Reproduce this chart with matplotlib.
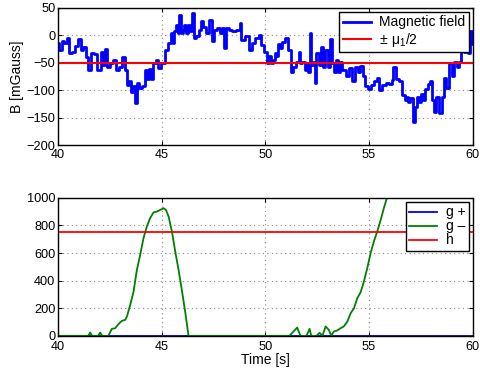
import matplotlib
matplotlib.use('Agg')
import matplotlib.pyplot as plt
import numpy as np

plt.rcParams['font.family'] = ['Liberation Sans', 'DejaVu Sans']
plt.rcParams['mathtext.default'] = 'regular'
plt.rcParams['xtick.direction'] = 'in'
plt.rcParams['ytick.direction'] = 'in'

# magnetic field samples (time [s], B [mGauss])
t_b = [40.00, 40.10, 40.18, 40.24, 40.37, 40.50, 40.58, 40.72, 40.87, 41.06,
       41.14, 41.30, 41.42, 41.51, 41.63, 41.79, 42.00, 42.11, 42.19, 42.32,
       42.39, 42.59, 42.71, 42.84, 43.00, 43.19, 43.24, 43.37, 43.48, 43.56,
       43.64, 43.77, 43.88, 43.96, 44.12, 44.25, 44.36, 44.44, 44.54, 44.64,
       44.77, 44.89, 45.01, 45.09, 45.25, 45.38, 45.49, 45.57, 45.65, 45.73,
       45.81, 45.89, 45.98, 46.05, 46.14, 46.22, 46.29, 46.41, 46.51, 46.58,
       46.70, 46.86, 46.94, 47.05, 47.18, 47.34, 47.47, 47.58, 47.74, 47.86,
       47.96, 48.07, 48.15, 48.31, 48.47, 48.71, 48.79, 48.89, 49.12, 49.28,
       49.43, 49.60, 49.76, 49.84, 50.00, 50.11, 50.24, 50.32, 50.40, 50.48,
       50.57, 50.64, 50.72, 50.88, 51.05, 51.17, 51.29, 51.37, 51.53, 51.66,
       51.72, 51.85, 51.93, 52.01, 52.09, 52.17, 52.22, 52.33, 52.42, 52.50,
       52.66, 52.74, 52.82, 52.95, 53.06, 53.17, 53.27, 53.38, 53.46, 53.54,
       53.62, 53.78, 53.95, 54.11, 54.27, 54.40, 54.51, 54.62, 54.75, 54.88,
       54.99, 55.15, 55.31, 55.43, 55.56, 55.71, 55.88, 56.04, 56.12, 56.23,
       56.33, 56.52, 56.68, 56.76, 56.85, 56.92, 57.04, 57.16, 57.25, 57.33,
       57.44, 57.54, 57.65, 57.78, 57.89, 58.00, 58.10, 58.18, 58.29, 58.45,
       58.58, 58.65, 58.78, 58.94, 59.02, 59.18, 59.26, 59.39, 59.50, 59.61,
       59.74, 59.82, 59.90, 59.99, 60.00]
b_field = [-14, -27, -27, -11, -14, -4, -32, -30, -20, -7,
           -27, -22, -40, -63, -32, -34, -63, -30, -54, -25,
           -57, -51, -45, -63, -57, -40, -64, -90, -84, -103,
           -92, -124, -86, -96, -93, -64, -80, -62, -80, -51,
           -45, -59, -51, -50, -27, -14, 4, -14, 7, 19,
           4, 37, 4, 10, 19, 4, 19, 7, 40, -4,
           -2, 10, 26, 16, 4, 28, -11, 10, 13, 4,
           13, -24, 13, 10, 7, 10, 22, -8, -2, -27,
           -14, -5, 1, -17, -30, -51, -37, -51, -45, -33,
           -37, -15, -24, -12, -5, -27, -66, -57, -48, -30,
           -51, -48, -63, -51, -66, 4, -54, -48, -87, -33,
           -54, -21, -57, -27, -57, -7, -51, -66, -45, -66,
           -48, -63, -75, -60, -84, -57, -66, -56, -75, -92,
           -97, -90, -84, -78, -100, -90, -87, -88, -82, -57,
           -80, -84, -109, -118, -112, -121, -115, -157, -130, -112,
           -121, -106, -118, -97, -88, -83, -118, -139, -112, -142,
           -112, -78, -96, -51, -75, -48, -57, -48, -21, -30,
           -9, -33, 7, -15, -5]
mu_half = 50

# CUSUM statistics
t_g = [40.00, 41.45, 41.55, 41.64, 41.93, 42.03, 42.13, 42.43, 42.59, 42.75,
       42.91, 43.08, 43.24, 43.32, 43.48, 43.64, 43.80, 43.96, 44.12, 44.28,
       44.44, 44.60, 44.77, 44.93, 45.09, 45.20, 45.33, 45.49, 45.65, 45.81,
       45.98, 46.14, 46.29, 51.16, 51.53, 51.69, 51.98, 52.13, 52.21, 52.46,
       52.61, 52.75, 52.90, 53.06, 53.17, 53.30, 53.46, 53.62, 53.78, 53.95,
       54.11, 54.27, 54.43, 54.59, 54.75, 54.91, 55.07, 55.23, 55.39, 55.56,
       55.71, 55.88, 56.04, 56.30]
g_minus = [0, 0, 24, 0, 0, 24, 0, 0, 51, 55,
           85, 109, 116, 140, 225, 321, 478, 587, 708, 792,
           853, 894, 901, 913, 925, 913, 865, 756, 611, 478,
           321, 164, 0, 0, 60, 0, 0, 51, 0, 0,
           22, 0, 68, 43, 0, 31, 39, 55, 68, 104,
           164, 200, 273, 316, 394, 490, 599, 684, 756, 841,
           925, 1010, 1090, 1220]
t_gp = [40, 60]
g_plus = [0, 0]
h = 750

fs = 9.2
lfs = 10
fig = plt.figure(figsize=(4.8, 3.74), dpi=100)
ax1 = fig.add_axes([0.121, 0.612, 0.864, 0.367])
ax2 = fig.add_axes([0.121, 0.102, 0.864, 0.369])

ax1.plot(t_b, b_field, color='#0000ff', lw=2.0, drawstyle='steps-mid',
         label='Magnetic field')
ax1.axhline(mu_half, color='#ff0000', lw=1.5, label=r'$\pm\ \mu_1/2$')
ax1.axhline(-mu_half, color='#ff0000', lw=1.5)
ax1.set_xlim(40, 60)
ax1.set_ylim(-200, 50)
ax1.set_xticks([40, 45, 50, 55, 60])
ax1.set_yticks([-200, -150, -100, -50, 0, 50])
ax1.set_ylabel('B [mGauss]', fontsize=lfs, labelpad=2)
ax1.legend(loc='upper right', fontsize=lfs, fancybox=False, edgecolor='black',
           framealpha=1, borderpad=0.25, labelspacing=0.1, handlelength=2.0,
           handletextpad=0.6, borderaxespad=0.3)

ax2.plot(t_gp, g_plus, color='#0000ff', lw=1.3, label='g +')
ax2.plot(t_g, g_minus, color='#008000', lw=1.3, label='g \u2013')
ax2.axhline(h, color='#ff0000', lw=1.3, label='h')
ax2.set_xlim(40, 60)
ax2.set_ylim(0, 1000)
ax2.set_xticks([40, 45, 50, 55, 60])
ax2.set_yticks([0, 200, 400, 600, 800, 1000])
ax2.set_xlabel('Time [s]', fontsize=lfs, labelpad=0)
ax2.legend(loc='upper right', fontsize=lfs, fancybox=False, edgecolor='black',
           framealpha=1, borderpad=0.25, labelspacing=0.0, handlelength=2.0,
           handletextpad=0.6, borderaxespad=0.3)

for ax in (ax1, ax2):
    ax.grid(True, color='#888888', linestyle=(0, (1, 3)), lw=0.8)
    ax.tick_params(labelsize=fs, length=3, top=True, right=True, pad=2)
    ax.tick_params(axis='x', pad=3)
    for s in ax.spines.values():
        s.set_linewidth(1.0)
ax2.tick_params(axis='x', pad=4)

fig.savefig('out.png', dpi=100)
